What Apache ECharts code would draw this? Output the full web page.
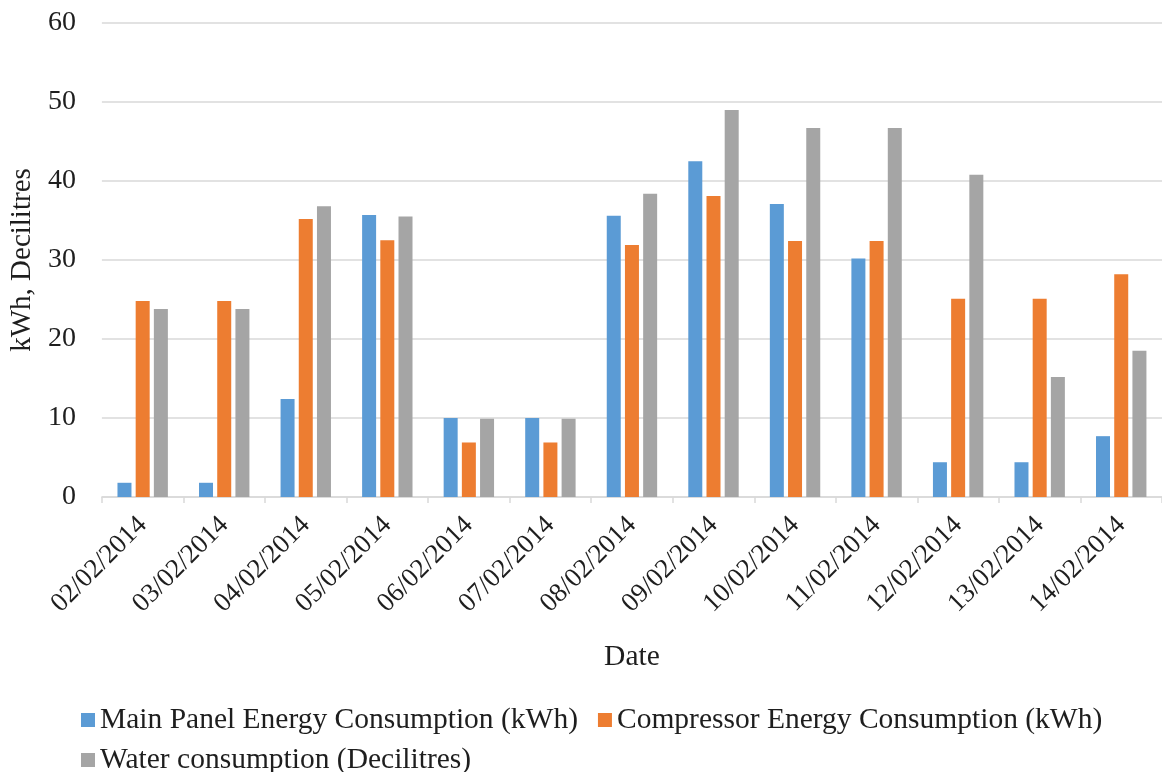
<!DOCTYPE html>
<html>
<head>
<meta charset="utf-8">
<script src="https://cdn.jsdelivr.net/npm/echarts@6/dist/echarts.min.js"></script>
<style>
  html, body { margin: 0; padding: 0; background: #fff; }
  #chart { width: 1162px; height: 772px; }
</style>
</head>
<body>
<div id="chart"></div>
<script>
// Daily readings, 2–14 February 2014
const dates = ['02/02/2014', '03/02/2014', '04/02/2014', '05/02/2014', '06/02/2014',
  '07/02/2014', '08/02/2014', '09/02/2014', '10/02/2014', '11/02/2014',
  '12/02/2014', '13/02/2014', '14/02/2014'];
const mainPanel = [1.8, 1.8, 12.4, 35.7, 10.0, 10.0, 35.6, 42.5, 37.1, 30.2, 4.4, 4.4, 7.7];
const compressor = [24.8, 24.8, 35.2, 32.5, 6.9, 6.9, 31.9, 38.1, 32.4, 32.4, 25.1, 25.1, 28.2];
const water = [23.8, 23.8, 36.8, 35.5, 9.9, 9.9, 38.4, 49.0, 46.7, 46.7, 40.8, 15.2, 18.5];
const seriesNames = ['Main Panel Energy Consumption (kWh)', 'Compressor Energy Consumption (kWh)', 'Water consumption (Decilitres)'];
const yTicks = { min: 0, max: 60, interval: 10 };

const FONT = '"Liberation Serif", "Times New Roman", serif';
const TEXT = '#1e1e1e';

const chart = echarts.init(document.getElementById('chart'), null, { renderer: 'canvas' });

function bar(name, data, color) {
  return {
    name: name,
    type: 'bar',
    data: data,
    barWidth: 14,
    barGap: '30%',
    itemStyle: { color: color },
    emphasis: { disabled: true }
  };
}

const legendText = { fontFamily: FONT, fontSize: 29.5, color: TEXT };

chart.setOption({
  animation: false,
  textStyle: { fontFamily: FONT },
  grid: { left: 99, top: 23, width: 1070, height: 474 },
  legend: [
    {
      data: [seriesNames[0], seriesNames[1]],
      left: 76, top: 700,
      icon: 'rect', itemWidth: 14, itemHeight: 14, itemGap: 20,
      textStyle: legendText
    },
    {
      data: [seriesNames[2]],
      left: 76, top: 740,
      icon: 'rect', itemWidth: 14, itemHeight: 14,
      textStyle: legendText
    }
  ],
  xAxis: {
    type: 'category',
    data: dates,
    name: 'Date',
    nameLocation: 'middle',
    nameGap: 145,
    nameTextStyle: { fontFamily: FONT, fontSize: 29.5, color: TEXT },
    axisLine: { lineStyle: { color: '#d9d9d9', width: 1.5 } },
    axisTick: { show: true, length: 6, lineStyle: { color: '#d9d9d9', width: 1.5 } },
    axisLabel: { rotate: 45, margin: 24, fontFamily: FONT, fontSize: 27, color: TEXT, interval: 0 }
  },
  yAxis: {
    type: 'value',
    min: yTicks.min, max: yTicks.max, interval: yTicks.interval,
    name: 'kWh, Decilitres',
    nameLocation: 'middle',
    nameGap: 62,
    nameTextStyle: { fontFamily: FONT, fontSize: 29, color: TEXT },
    axisLine: { show: false },
    axisTick: { show: false },
    axisLabel: { margin: 26, fontFamily: FONT, fontSize: 28, color: TEXT },
    splitLine: { lineStyle: { color: '#d9d9d9', width: 1.5 } }
  },
  series: [
    bar(seriesNames[0], mainPanel, '#5b9bd5'),
    bar(seriesNames[1], compressor, '#ed7d31'),
    bar(seriesNames[2], water, '#a5a5a5')
  ]
});
</script>
</body>
</html>
